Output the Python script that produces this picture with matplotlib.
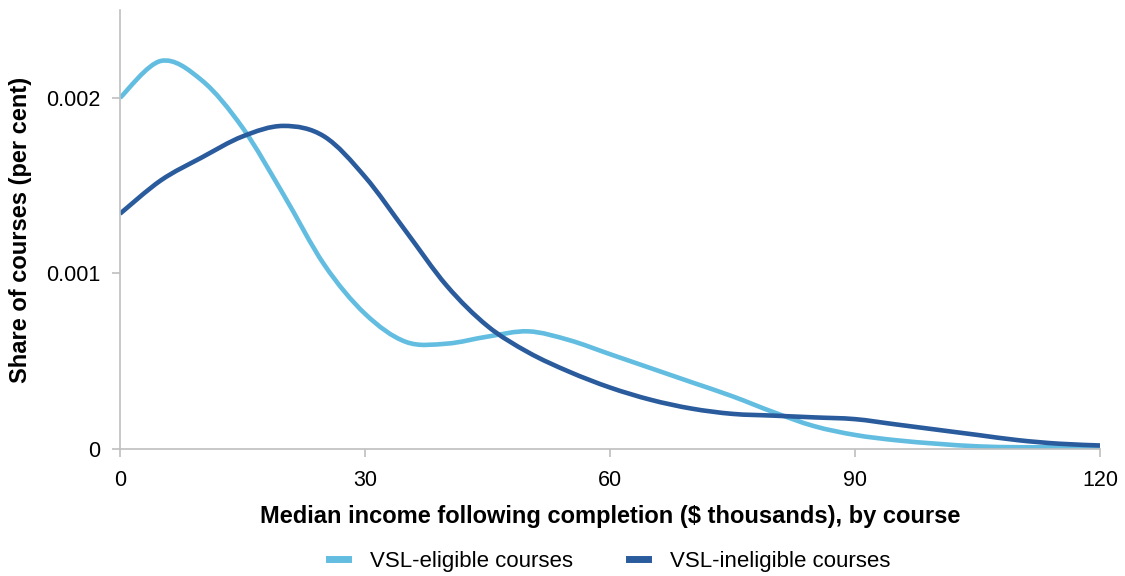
import numpy as np
import matplotlib.pyplot as plt
from matplotlib.lines import Line2D
from matplotlib.path import Path
from matplotlib.patches import PathPatch

# Values
income = [0, 5, 10, 15, 20, 25, 30, 35, 40, 45, 50, 55, 60,
          65, 70, 75, 80, 85, 90, 95, 100, 105, 110, 115, 120]
eligible = [0.00200, 0.00221, 0.00210, 0.00183, 0.00145, 0.00105, 0.00077,
            0.00061, 0.00060, 0.00064, 0.00067, 0.00062, 0.00054, 0.00046,
            0.00038, 0.00030, 0.00021, 0.00013, 0.00008, 0.00005, 0.00003,
            0.000015, 0.00001, 0.00001, 0.00001]
ineligible = [0.00134, 0.00153, 0.00166, 0.00178, 0.00184, 0.00178, 0.00155,
              0.00124, 0.00093, 0.00070, 0.00055, 0.00044, 0.00035, 0.00028,
              0.00023, 0.00020, 0.00019, 0.00018, 0.00017, 0.00014, 0.00011,
              0.00008, 0.00005, 0.00003, 0.00002]
series_names = ['VSL-eligible courses', 'VSL-ineligible courses']
x_ticks = [0, 30, 60, 90, 120]
y_ticks = [0, 0.001, 0.002]
y_tick_labels = ['0', '0.001', '0.002']

light = '#62bde0'
dark = '#2a5b9c'
axis_grey = '#bfbfbf'


def smooth_path(xs, ys):
    # Excel-style smoothed line: Catmull-Rom segments as cubic Beziers
    pts = np.column_stack([xs, ys]).astype(float)
    verts = [pts[0]]
    codes = [Path.MOVETO]
    n = len(pts)
    for i in range(n - 1):
        p0 = pts[max(i - 1, 0)]
        p1 = pts[i]
        p2 = pts[i + 1]
        p3 = pts[min(i + 2, n - 1)]
        c1 = p1 + (p2 - p0) / 6.0
        c2 = p2 - (p3 - p1) / 6.0
        verts += [c1, c2, p2]
        codes += [Path.CURVE4] * 3
    return Path(verts, codes)


plt.rcParams['font.family'] = ['Liberation Sans', 'DejaVu Sans']

fig = plt.figure(figsize=(11.25, 5.76), dpi=100)
ax = fig.add_axes([0.1067, 0.2205, 0.8711, 0.7621])

for vals, col in [(eligible, light), (ineligible, dark)]:
    ax.add_patch(PathPatch(smooth_path(income, vals), fill=False,
                           edgecolor=col, linewidth=3.3, capstyle='butt'))

ax.set_xlim(0, 120)
ax.set_ylim(0, 0.0025)
ax.set_xticks(x_ticks)
ax.set_xticklabels([str(v) for v in x_ticks])
ax.set_yticks(y_ticks)
ax.set_yticklabels(y_tick_labels)

for side in ['top', 'right']:
    ax.spines[side].set_visible(False)
for side in ['left', 'bottom']:
    ax.spines[side].set_color(axis_grey)
    ax.spines[side].set_linewidth(1.2)
ax.tick_params(axis='both', colors=axis_grey, labelcolor='black', length=6,
               width=1.2, labelsize=15.5)
ax.tick_params(axis='y', pad=8)
ax.tick_params(axis='x', pad=9)

ax.set_xlabel('Median income following completion ($ thousands), by course',
              fontsize=17, fontweight='bold', labelpad=10)
ax.set_ylabel('Share of courses (per cent)', fontsize=17,
              fontweight='bold', labelpad=10)

handles = [Line2D([], [], color=light, linewidth=5),
           Line2D([], [], color=dark, linewidth=5)]
fig.legend(handles, series_names, loc='center', bbox_to_anchor=(0.542, 0.025),
           ncol=2, frameon=False, fontsize=16, handlelength=0.85,
           columnspacing=2.5, handletextpad=1.0)

fig.savefig('out.png', dpi=100)
